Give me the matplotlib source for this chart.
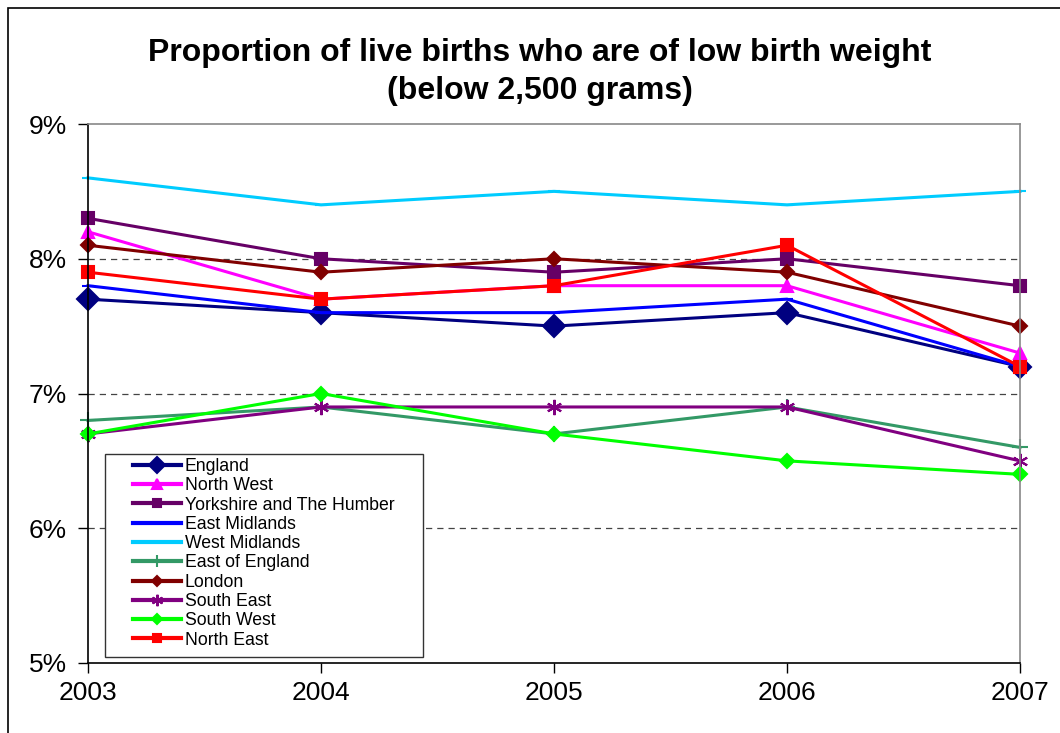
import matplotlib
matplotlib.use("Agg")
import matplotlib.pyplot as plt
from matplotlib.patches import Rectangle

plt.rcParams['font.family'] = ['Liberation Sans', 'DejaVu Sans']

# DATA
YEARS = ['2003', '2004', '2005', '2006', '2007']
england = [7.7, 7.6, 7.5, 7.6, 7.2]
north_west = [8.2, 7.7, 7.8, 7.8, 7.3]
yorkshire = [8.3, 8.0, 7.9, 8.0, 7.8]
east_midlands = [7.8, 7.6, 7.6, 7.7, 7.2]
west_midlands = [8.6, 8.4, 8.5, 8.4, 8.5]
east_of_england = [6.8, 6.9, 6.7, 6.9, 6.6]
london = [8.1, 7.9, 8.0, 7.9, 7.5]
south_east = [6.7, 6.9, 6.9, 6.9, 6.5]
south_west = [6.7, 7.0, 6.7, 6.5, 6.4]
north_east = [7.9, 7.7, 7.8, 8.1, 7.2]

series = [
    ('England', england, '#000080', 'D', 11),
    ('North West', north_west, '#FF00FF', '^', 9),
    ('Yorkshire and The Humber', yorkshire, '#660066', 's', 8),
    ('East Midlands', east_midlands, '#0000FF', '_', 9),
    ('West Midlands', west_midlands, '#00CCFF', '_', 9),
    ('East of England', east_of_england, '#339966', '+', 11),
    ('London', london, '#800000', 'D', 7),
    ('South East', south_east, '#800080', (6, 2, 0), 11),
    ('South West', south_west, '#00FF00', 'D', 7),
    ('North East', north_east, '#FF0000', 's', 8),
]


def main():
    fig = plt.figure(figsize=(10.6, 7.33), dpi=100)
    ax = fig.add_axes([88 / 1060, 70 / 733, 932 / 1060, 539 / 733])

    x = list(range(len(YEARS)))
    for name, vals, col, mk, ms in series:
        ax.plot(x, vals, color=col, lw=2.2, marker=mk, markersize=ms,
                markeredgewidth=1.5, label=name, clip_on=False)

    ax.set_xlim(0, len(YEARS) - 1)
    ax.set_ylim(5, 9)
    ax.set_xticks(x)
    ax.set_xticklabels(YEARS)
    ax.set_yticks([5, 6, 7, 8, 9])
    ax.set_yticklabels(['5%', '6%', '7%', '8%', '9%'])
    ax.tick_params(axis='both', labelsize=19, direction='out', length=7,
                   width=1, color='black')
    ax.tick_params(axis='x', pad=6)
    ax.tick_params(axis='y', pad=8)

    for yv in [6, 7, 8]:
        ax.axhline(yv, color='#444444', lw=0.9, ls=(0, (5, 4)), zorder=0)

    ax.spines['left'].set_color('black')
    ax.spines['bottom'].set_color('black')
    ax.spines['top'].set_color('#888888')
    ax.spines['right'].set_color('#888888')
    for s in ax.spines.values():
        s.set_linewidth(1.2)

    # legend without frame, frame drawn separately (wider side padding)
    leg = ax.legend(loc='upper left', bbox_to_anchor=(133 / 1060, 1 - 458 / 733),
                    bbox_transform=fig.transFigure, fontsize=12.7,
                    frameon=False, handlelength=2.7,
                    labelspacing=0.13, borderpad=0, handletextpad=0.23,
                    borderaxespad=0, markerscale=0.75)
    for ln in leg.get_lines():
        ln.set_linewidth(3)
    ax.add_patch(Rectangle((105 / 1060, 76 / 733), 318 / 1060, 203 / 733,
                           transform=fig.transFigure, fill=True,
                           facecolor='white', edgecolor='#333333',
                           lw=1.0, zorder=4, clip_on=False))

    fig.text(0.509, 1 - 72 / 733,
             'Proportion of live births who are of low birth weight\n(below 2,500 grams)',
             ha='center', va='center', fontsize=23, fontweight='bold',
             linespacing=1.38)

    # chart border
    fig.patches.append(Rectangle((8 / 1060, -0.1), 1.2, 0.1 + 725 / 733,
                                 transform=fig.transFigure, fill=False,
                                 edgecolor='black', lw=1.2))

    fig.savefig('out.png', dpi=100)


if __name__ == "__main__":
    main()
